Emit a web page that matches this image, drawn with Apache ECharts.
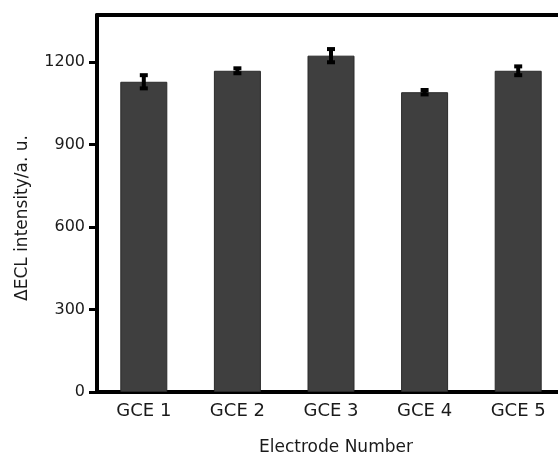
<!DOCTYPE html>
<html>
<head>
<meta charset="utf-8">
<script src="https://cdn.jsdelivr.net/npm/echarts@6/dist/echarts.min.js"></script>
<style>html,body{margin:0;padding:0;background:#fff;}#c{width:558px;height:454px;}</style>
</head>
<body>
<div id="c"></div>
<script>
var categories = ['GCE 1', 'GCE 2', 'GCE 3', 'GCE 4', 'GCE 5'];
var values = [1129, 1169, 1224, 1091, 1169];
var errors = [24, 9, 24, 8, 16];
var yTicks = [0, 300, 600, 900, 1200];

var chart = echarts.init(document.getElementById('c'), null, {renderer: 'canvas'});
var font = 'DejaVu Sans';
var errData = values.map(function (v, i) { return [i, v - errors[i], v + errors[i]]; });

chart.setOption({
  animation: false,
  grid: {left: 97, right: -7, top: 15, bottom: 62, containLabel: false, outerBoundsMode: 'none'},
  xAxis: [{
    type: 'category',
    data: categories,
    position: 'bottom',
    axisLine: {lineStyle: {color: '#000', width: 4}},
    axisTick: {alignWithLabel: true, length: 6, lineStyle: {color: '#000', width: 3}},
    axisLabel: {color: '#1a1a1a', fontFamily: font, fontSize: 18, margin: 10},
    name: 'Electrode Number',
    nameLocation: 'middle',
    nameGap: 47,
    nameTextStyle: {color: '#1a1a1a', fontFamily: font, fontSize: 17, padding: [0, 0, 0, 10]}
  }, {
    type: 'category',
    data: categories,
    position: 'top',
    axisLine: {lineStyle: {color: '#000', width: 4}},
    axisTick: {show: false},
    axisLabel: {show: false}
  }],
  yAxis: {
    type: 'value',
    min: 0,
    max: 1372,
    interval: 300,
    axisLine: {show: true, lineStyle: {color: '#000', width: 4}},
    axisTick: {show: true, length: 8, customValues: yTicks, lineStyle: {color: '#000', width: 3}},
    axisLabel: {color: '#1a1a1a', fontFamily: font, fontSize: 16, margin: 12, customValues: yTicks,
      formatter: function (v) { return String(v); }},
    splitLine: {show: false}
  },
  graphic: [{
    type: 'text',
    rotation: Math.PI / 2,
    x: 23, y: 218,
    style: {text: 'ΔECL intensity/a. u.', fill: '#1a1a1a', font: '17px "DejaVu Sans"', textAlign: 'center', textVerticalAlign: 'middle'}
  }],
  series: [{
    type: 'bar',
    data: values,
    barWidth: 47,
    itemStyle: {color: '#3f3f3f', borderColor: '#2a2a2a', borderWidth: 1}
  }, {
    type: 'custom',
    data: errData,
    z: 10,
    renderItem: function (params, api) {
      var i = api.value(0);
      var lo = api.coord([i, api.value(1)]);
      var hi = api.coord([i, api.value(2)]);
      var hw = 4;
      var st = {stroke: '#000', lineWidth: 4};
      return {type: 'group', children: [
        {type: 'line', shape: {x1: lo[0], y1: lo[1], x2: hi[0], y2: hi[1]}, style: st},
        {type: 'line', shape: {x1: lo[0] - hw, y1: lo[1], x2: lo[0] + hw, y2: lo[1]}, style: st},
        {type: 'line', shape: {x1: hi[0] - hw, y1: hi[1], x2: hi[0] + hw, y2: hi[1]}, style: st}
      ]};
    }
  }]
});
</script>
</body>
</html>
